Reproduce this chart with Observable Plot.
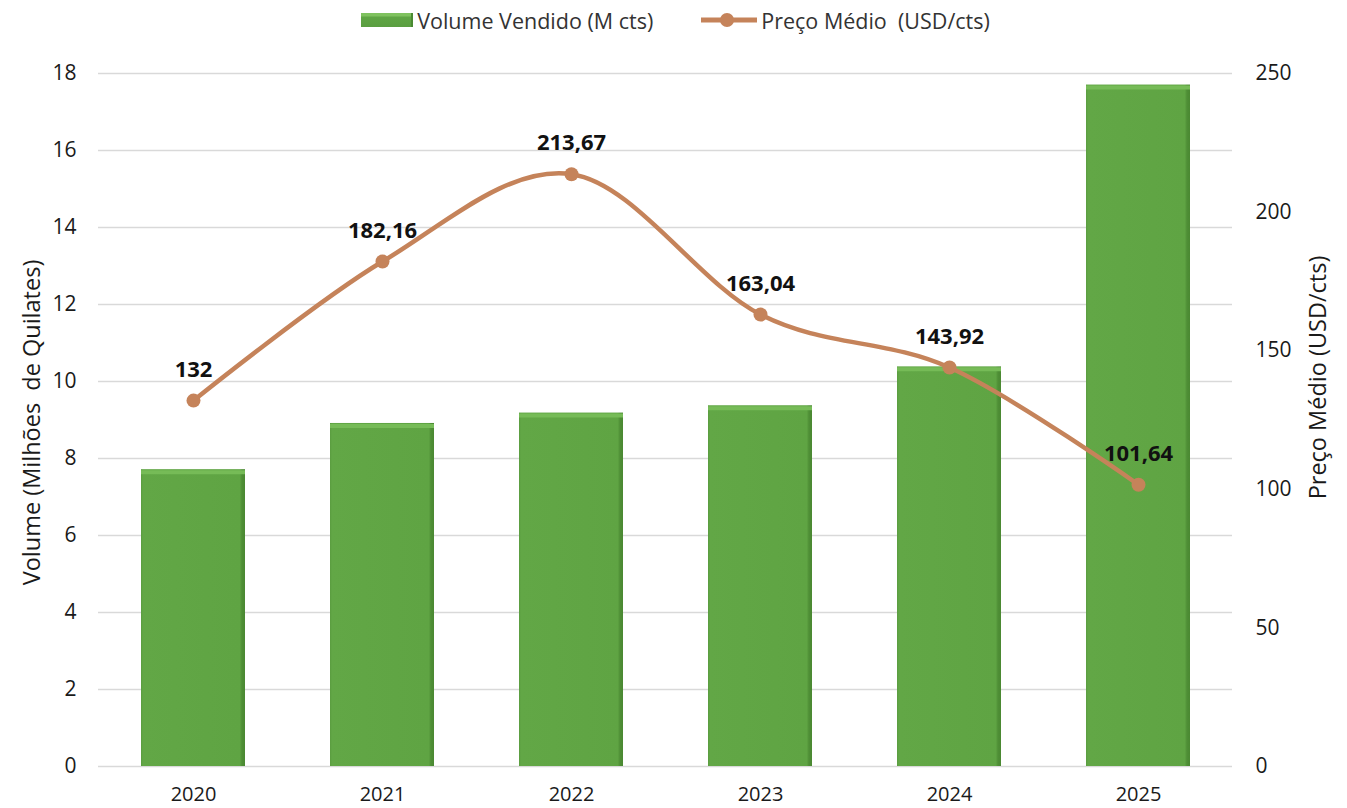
<!DOCTYPE html>
<html><head><meta charset="utf-8">
<script src="https://cdn.jsdelivr.net/npm/d3@7"></script>
<script src="https://cdn.jsdelivr.net/npm/@observablehq/plot@0.6"></script>
<style>
body{margin:0;background:#fff;font-family:"Open Sans",sans-serif;}
#legend{height:40px;display:flex;justify-content:center;align-items:center;gap:48px;font-size:21.5px;color:#333;padding-left:4px;box-sizing:border-box;}
.item{display:flex;align-items:center;gap:4px;}
.sw{width:52px;height:14px;background:linear-gradient(#7fc25f 0,#7fc25f 3px,#5fa544 4px,#5a9e40 100%);border-right:2px solid #4a8a33;box-sizing:border-box;}
</style></head>
<body>
<div id="legend">
  <div class="item"><div class="sw"></div><span>Volume Vendido (M cts)</span></div>
  <div class="item"><svg width="56" height="20"><line x1="0" y1="10" x2="56" y2="10" stroke="#C5835A" stroke-width="5" stroke-linecap="round"/><circle cx="26" cy="10" r="7" fill="#C5835A"/></svg><span>Preço Médio&nbsp; (USD/cts)</span></div>
</div>
<div id="chart"></div>
<script>
const years = ["2020","2021","2022","2023","2024","2025"];
const volume = [7.71, 8.91, 9.18, 9.37, 10.38, 17.70];
const price = [132, 182.16, 213.67, 163.04, 143.92, 101.64];
const leftTicks = [0,2,4,6,8,10,12,14,16,18];
const rightTicks = [0,50,100,150,200,250];
const leftMax = 18, rightMax = 250;
const k = leftMax / rightMax;

const data = years.map((y,i)=>({year:y, volume:volume[i], price:price[i], p:price[i]*k,
  label:String(price[i]).replace(".",",")}));

const font = "Open Sans";
const plot = Plot.plot({
  width:1347, height:768,
  marginTop:33, marginBottom:42, marginLeft:98, marginRight:115,
  style:{fontFamily:font, fontSize:"21px", color:"#1a1a1a", background:"#fff", overflow:"visible"},
  x:{type:"band", domain:years, paddingInner:0.45, paddingOuter:0.225, label:null},
  y:{domain:[0,leftMax], label:null},
  marks:[
    Plot.gridY(leftTicks, {stroke:"#d9d9d9", strokeOpacity:1, strokeWidth:1.5}),
    Plot.barY(data, {x:"year", y:"volume", fill:"url(#barGrad)"}),
    Plot.tickY(data, {x:"year", y:"volume", stroke:"#76bb57", strokeWidth:4, dy:2.5}),
    Plot.line(data, {x:"year", y:"p", stroke:"#C5835A", strokeWidth:4.5, curve:"cardinal"}),
    Plot.dot(data, {x:"year", y:"p", r:7, fill:"#C5835A", stroke:"none"}),
    Plot.text(data, {x:"year", y:"p", text:"label", dy:-31, fontSize:22, fontWeight:"bold", fill:"#111"}),
    Plot.axisX({tickSize:0, tickPadding:20, label:null, fontSize:20}),
    Plot.axisY(leftTicks, {anchor:"left", tickSize:0, tickPadding:22, label:null}),
    Plot.axisY(rightTicks.map(v=>v*k), {anchor:"right", tickSize:0, tickPadding:23, label:null,
      tickFormat:d=>String(Math.round(d/k))}),
    Plot.text(["Volume (Milhões  de Quilates)"], {frameAnchor:"left", rotate:-90, textAnchor:"middle", lineAnchor:"middle", dx:-66, dy:2.5, fontSize:23.5, fill:"#1a1a1a"}),
    Plot.text(["Preço Médio (USD/cts)"], {frameAnchor:"right", rotate:-90, textAnchor:"middle", lineAnchor:"middle", dx:86, dy:-42.5, fontSize:23.5, fill:"#1a1a1a"})
  ]
});
const ns = "http://www.w3.org/2000/svg";
const defs = document.createElementNS(ns,"defs");
defs.innerHTML = `<linearGradient id="barGrad" x1="0" x2="1" y1="0" y2="0">
<stop offset="0" stop-color="#5a9c40"/><stop offset="0.02" stop-color="#62a746"/>
<stop offset="0.95" stop-color="#5fa443"/><stop offset="0.97" stop-color="#4f8f36"/><stop offset="1" stop-color="#4a8832"/></linearGradient>`;
plot.insertBefore(defs, plot.firstChild);
document.getElementById("chart").appendChild(plot);
</script>
</body></html>
